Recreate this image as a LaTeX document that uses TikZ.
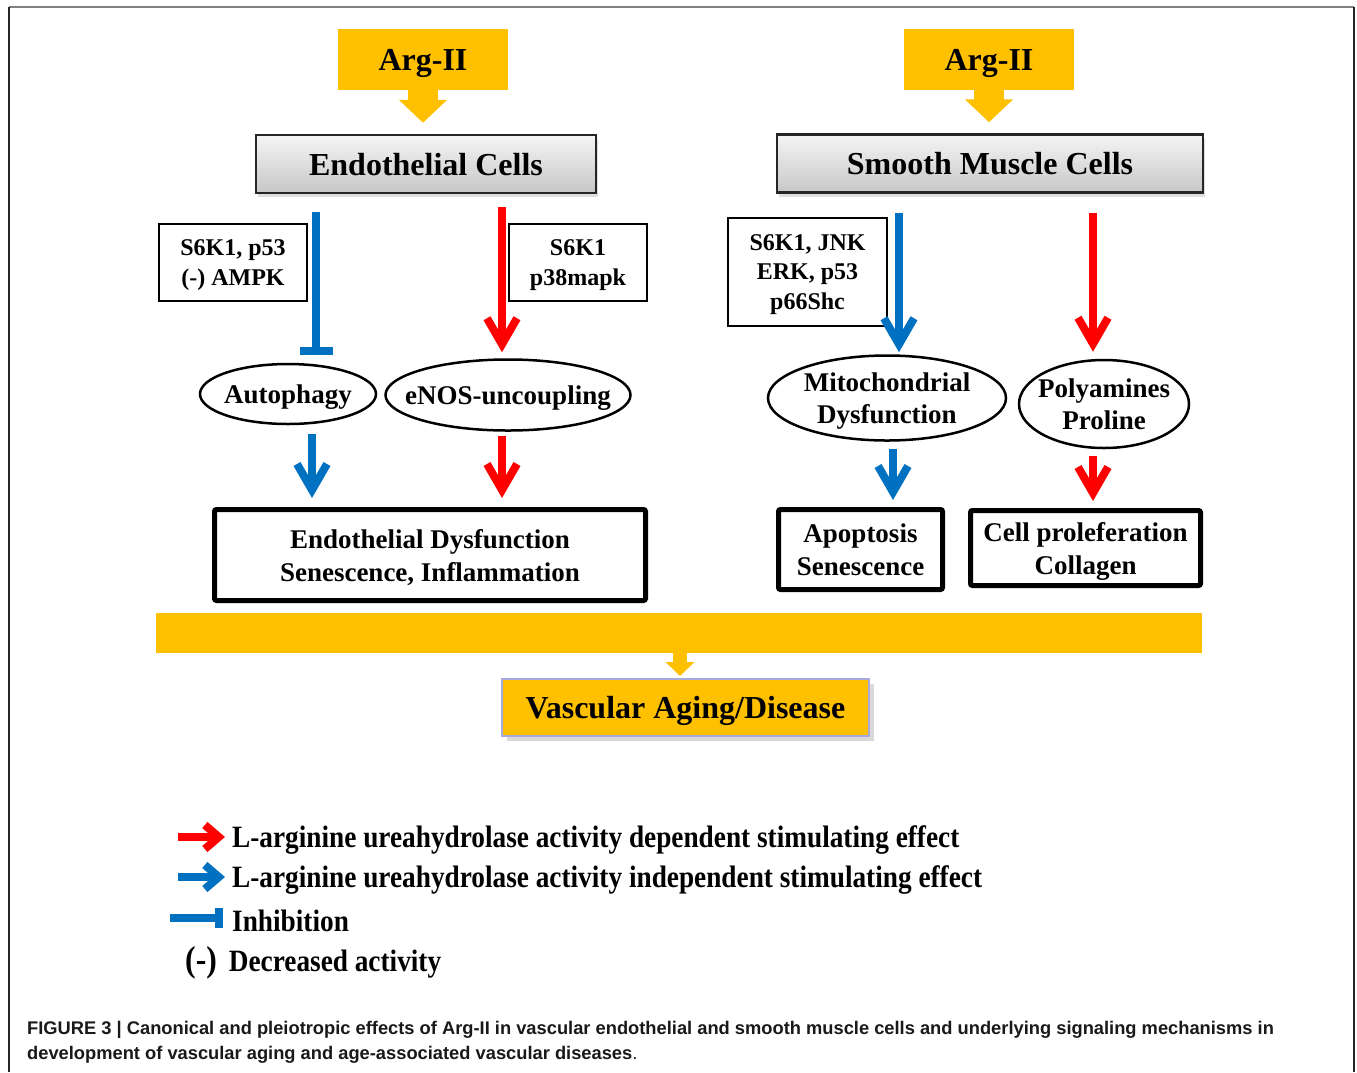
\documentclass[tikz,border=0pt]{standalone}
\usepackage{fontspec}
\setmainfont{Liberation Serif}
\newfontfamily\legendfont[FakeStretch=0.88]{Liberation Serif}
\newfontfamily\capfont{Liberation Sans}
\usetikzlibrary{arrows.meta}
\usetikzlibrary{positioning}
\usetikzlibrary{shapes.geometric}
\usetikzlibrary{shadows}
\definecolor{argyellow}{HTML}{FFC000}
\definecolor{actred}{HTML}{FF0000}
\definecolor{actblue}{HTML}{0070C0}
\definecolor{vascline}{HTML}{A9A9DC}
\tikzset{
	argbox/.style={
		rectangle,
		fill=argyellow,
		minimum width=170pt,
		minimum height=61pt,
		text depth=0pt,
		font=\fontsize{32}{36}\selectfont\bfseries},
	cellbox/.style={
		rectangle,
		draw=black!85, line width=2.5pt,
		top color=white!96!black,
		bottom color=black!22,
		minimum height=58pt,
		text depth=0pt,
		font=\fontsize{32}{36}\selectfont\bfseries,
		drop shadow={shadow xshift=2pt, shadow yshift=-4pt, opacity=0.25}},
	labbox/.style={
		rectangle,
		draw=black, line width=1.8pt,
		align=center,
		text depth=0pt,
		font=\fontsize{24}{29.5}\selectfont\bfseries},
	stepell/.style={
		ellipse,
		draw=black, line width=2.5pt,
		inner xsep=-20pt, inner ysep=0pt,
		align=center,
		text depth=0pt,
		font=\fontsize{27}{32}\selectfont\bfseries},
	outbox/.style={
		rectangle,
		rounded corners=2pt,
		draw=black, line width=5pt,
		align=center,
		text depth=0pt,
		font=\fontsize{27}{33}\selectfont\bfseries},
	vascbox/.style={
		rectangle,
		fill=argyellow,
		draw=vascline, line width=2pt,
		minimum width=367pt,
		minimum height=57pt,
		text depth=0pt,
		font=\fontsize{32}{36}\selectfont\bfseries,
		drop shadow={shadow xshift=5pt, shadow yshift=-5pt, opacity=0.3}},
	blockarrow/.style={draw=argyellow, line width=30pt, -{Triangle[length=23pt,width=47pt]}},
	act/.style={line width=8pt, -{Straight Barb[length=26pt,width=30pt]}},
	inhibit/.style={draw=actblue, line width=8pt, -{Bar[width=33pt]}},
	legtext/.style={anchor=west, inner sep=0pt, font=\legendfont\fontsize{31}{36}\selectfont\bfseries},
}

\begin{document}
\begin{tikzpicture}[x=1pt, y=-1pt]
	\useasboundingbox (0,0) rectangle (1357,1072);
	% frame
	\draw[black!50, line width=2pt] (9,7) -- (1354,7);
	\draw[black!85, line width=1.5pt] (9,7) -- (9,1072) (1354,7) -- (1354,1072);

	% top row
	\node[argbox] (argL) at (423,59.5) {Arg-II};
	\node[argbox] (argR) at (989,59.5) {Arg-II};
	\node[cellbox, minimum width=340pt] (ecells) at (426,164) {Endothelial Cells};
	\node[cellbox, minimum width=426pt] (smc) at (990,163.5) {Smooth Muscle Cells};
	\draw[blockarrow, shorten >=11pt] (argL.south) -- (argL.south |- ecells.north);
	\draw[blockarrow, shorten >=11pt] (argR.south) -- (argR.south |- smc.north);

	% mediators
	\node[labbox, minimum width=148pt, minimum height=77pt] (labA) at (233,262.5) {S6K1, p53\\(-) AMPK};
	\node[labbox, minimum width=138pt, minimum height=77pt] (labB) at (578,262.5) {S6K1\\p38mapk};
	\node[labbox, minimum width=159pt, minimum height=108pt] (labC) at (807.5,272) {S6K1, JNK\\ERK, p53\\p66Shc};

	% processes
	\node[stepell, minimum width=176pt, minimum height=60pt] (autoph) at (288,394) {Autophagy};
	\node[stepell, minimum width=245pt, minimum height=71pt] (enos) at (508,395) {eNOS-uncoupling};
	\node[stepell, minimum width=238pt, minimum height=85pt] (mito) at (887,398) {Mitochondrial\\Dysfunction};
	\node[stepell, minimum width=170pt, minimum height=88pt] (poly) at (1104,404) {Polyamines\\Proline};

	% outcomes
	\node[outbox, minimum width=431pt, minimum height=91pt] (edys) at (430,555) {Endothelial Dysfunction\\Senescence, Inflammation};
	\node[outbox, minimum width=164pt, minimum height=80pt] (apop) at (860.5,549.5) {Apoptosis\\Senescence};
	\node[outbox, minimum width=230pt, minimum height=75pt] (cellp) at (1085.5,548) {Cell proleferation\\Collagen};

	\node[fill=argyellow, minimum width=1046pt, minimum height=40pt, inner sep=0pt] (band) at (679,633) {};
	\node[vascbox] (vasc) at (685.5,707.5) {Vascular Aging/Disease};

	% connectors
	\coordinate (xi) at (316,0);
	\coordinate (xr) at (502,0);
	\coordinate (xb1) at (312,0);
	\coordinate (xb2) at (899,0);
	\coordinate (xb3) at (893,0);
	\coordinate (xr2) at (1093,0);
	\coordinate (xv) at (680,0);
	\draw[inhibit, shorten <=18pt, shorten >=8pt] (ecells.south -| xi) -- (autoph.north -| xi);
	\draw[act, actred, shorten <=13pt, shorten >=6pt] (ecells.south -| xr) -- (enos.north -| xr);
	\draw[act, actblue, shorten <=19pt, shorten >=2pt] (smc.south -| xb2) -- (mito.north -| xb2);
	\draw[act, actred, shorten <=19pt, shorten >=7pt] (smc.south -| xr2) -- (poly.north -| xr2);
	\draw[act, actblue, shorten <=9pt, shorten >=9pt] (autoph.south -| xb1) -- (edys.north -| xb1);
	\draw[act, actred, shorten <=4pt, shorten >=9pt] (enos.south -| xr) -- (edys.north -| xr);
	\draw[act, actblue, shorten <=7pt, shorten >=7pt] (mito.south -| xb3) -- (apop.north -| xb3);
	\draw[act, actred, shorten <=7pt, shorten >=7pt] (poly.south -| xr2) -- (cellp.north -| xr2);
	\draw[draw=argyellow, line width=14pt, -{Triangle[length=14pt,width=28pt]}, shorten >=2pt] (band.south -| xv) -- (vasc.north -| xv);

	% legend
	\node[legtext] (leg1) at (232,840) {L-arginine ureahydrolase activity dependent stimulating effect};
	\node[legtext] (leg2) at (232,880) {L-arginine ureahydrolase activity independent stimulating effect};
	\node[legtext] (leg3) at (232,921) {Inhibition};
	\node[legtext] (leg4) at (185,963) {{\fontsize{36}{36}\selectfont(-)}\hspace{12pt}Decreased activity};
	\coordinate (k1) at (178,837);
	\coordinate (k2) at (178,877);
	\coordinate (k3) at (170,918);
	\draw[act, actred, -{Straight Barb[length=14pt,width=24pt]}, shorten >=7pt] (k1) -- (k1 -| leg1.west);
	\draw[act, actblue, -{Straight Barb[length=14pt,width=24pt]}, shorten >=7pt] (k2) -- (k2 -| leg2.west);
	\draw[inhibit, -{Bar[width=20pt]}, shorten >=9pt] (k3) -- (k3 -| leg3.west);

	% caption
	\node[anchor=north west, inner sep=0pt, align=left, font=\capfont\fontsize{18.3}{25}\selectfont\bfseries, text=black!90] (cap) at (27,1021)
		{FIGURE 3 | Canonical and pleiotropic effects of Arg-II in vascular endothelial and smooth muscle cells and underlying signaling mechanisms in\\development of vascular aging and age-associated vascular diseases{\mdseries.}};
\end{tikzpicture}
\end{document}
